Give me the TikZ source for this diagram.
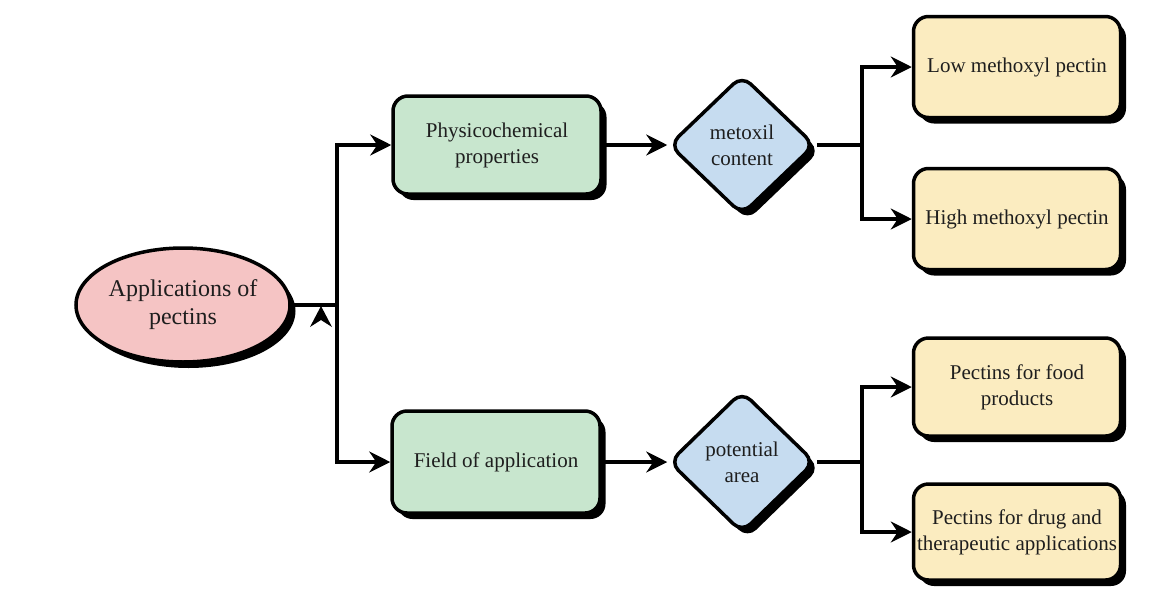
\documentclass[tikz,border=0pt]{standalone}
\usepackage{fontspec}
\setmainfont{Liberation Serif}
\usetikzlibrary{shapes.geometric,shadows,arrows.meta}
\definecolor{pinkfill}{RGB}{245,196,196}
\definecolor{greenfill}{RGB}{200,230,206}
\definecolor{bluefill}{RGB}{198,220,240}
\definecolor{yellowfill}{RGB}{251,236,192}
\definecolor{txt}{RGB}{30,30,30}
\tikzset{
  base/.style={draw=black, line width=3.5pt, text=txt, align=center, inner sep=0pt,
    font=\fontsize{21}{26}\selectfont,
    drop shadow={shadow xshift=5.5pt, shadow yshift=-6pt, fill=black, opacity=1}},
  ellbox/.style={base, ellipse, fill=pinkfill, minimum width=214pt, minimum height=114pt,
    font=\fontsize{24}{28}\selectfont},
  greenbox/.style={base, rectangle, rounded corners=15pt, fill=greenfill, minimum width=208pt},
  yellowbox/.style={base, rectangle, rounded corners=15pt, fill=yellowfill, minimum width=207pt},
  decbox/.style={base, diamond, rounded corners=12pt, fill=bluefill, minimum width=146pt, minimum height=140pt},
  conn/.style={line width=3.2pt, draw=black},
  arr/.style={conn, -{Stealth[length=21pt,width=21pt,inset=7pt]}},
}
\begin{document}
\begin{tikzpicture}[x=1pt,y=-1pt]
\useasboundingbox (0,0) rectangle (1151,592);
% nodes
\node[ellbox] (ell) at (183,305) {Applications of\\pectins};
\node[greenbox, minimum height=98pt] (g1) at (497,145) {Physicochemical\\properties};
\node[greenbox, minimum height=102pt] (g2) at (496,462) {Field of application};
\node[decbox] (d1) at (742,145) {metoxil\\content};
\node[decbox, minimum height=142pt] (d2) at (742,462) {potential\\area};
\node[yellowbox, minimum height=101pt] (y1) at (1017,67) {Low methoxyl pectin};
\node[yellowbox, minimum height=101pt] (y2) at (1017,219) {High methoxyl pectin};
\node[yellowbox, minimum height=98pt] (y3) at (1017,387) {Pectins for food\\products};
\node[yellowbox, minimum height=96pt] (y4) at (1017,532) {Pectins for drug and\\therapeutic applications};
% junctions
\coordinate (j1) at (337,305);
\coordinate (j2) at (862,145);
\coordinate (j3) at (862,462);
\draw[conn] (ell.east) -- (j1);
\draw[arr] (j1) |- (g1.west);
\draw[arr] (j1) |- (g2.west);
\draw[arr] (g1.east) -- (d1.west);
\draw[arr] (g2.east) -- (d2.west);
\draw[conn] (d1.east) -- (j2);
\draw[arr] (j2) |- (y1.west);
\draw[arr] (j2) |- (y2.west);
\draw[conn] (d2.east) -- (j3);
\draw[arr] (j3) |- (y3.west);
\draw[arr] (j3) |- (y4.west);
% small upward arrowhead near junction
\fill[black] (321,306) -- (332,327) -- (321,320) -- (310,327) -- cycle;
\end{tikzpicture}
\end{document}
